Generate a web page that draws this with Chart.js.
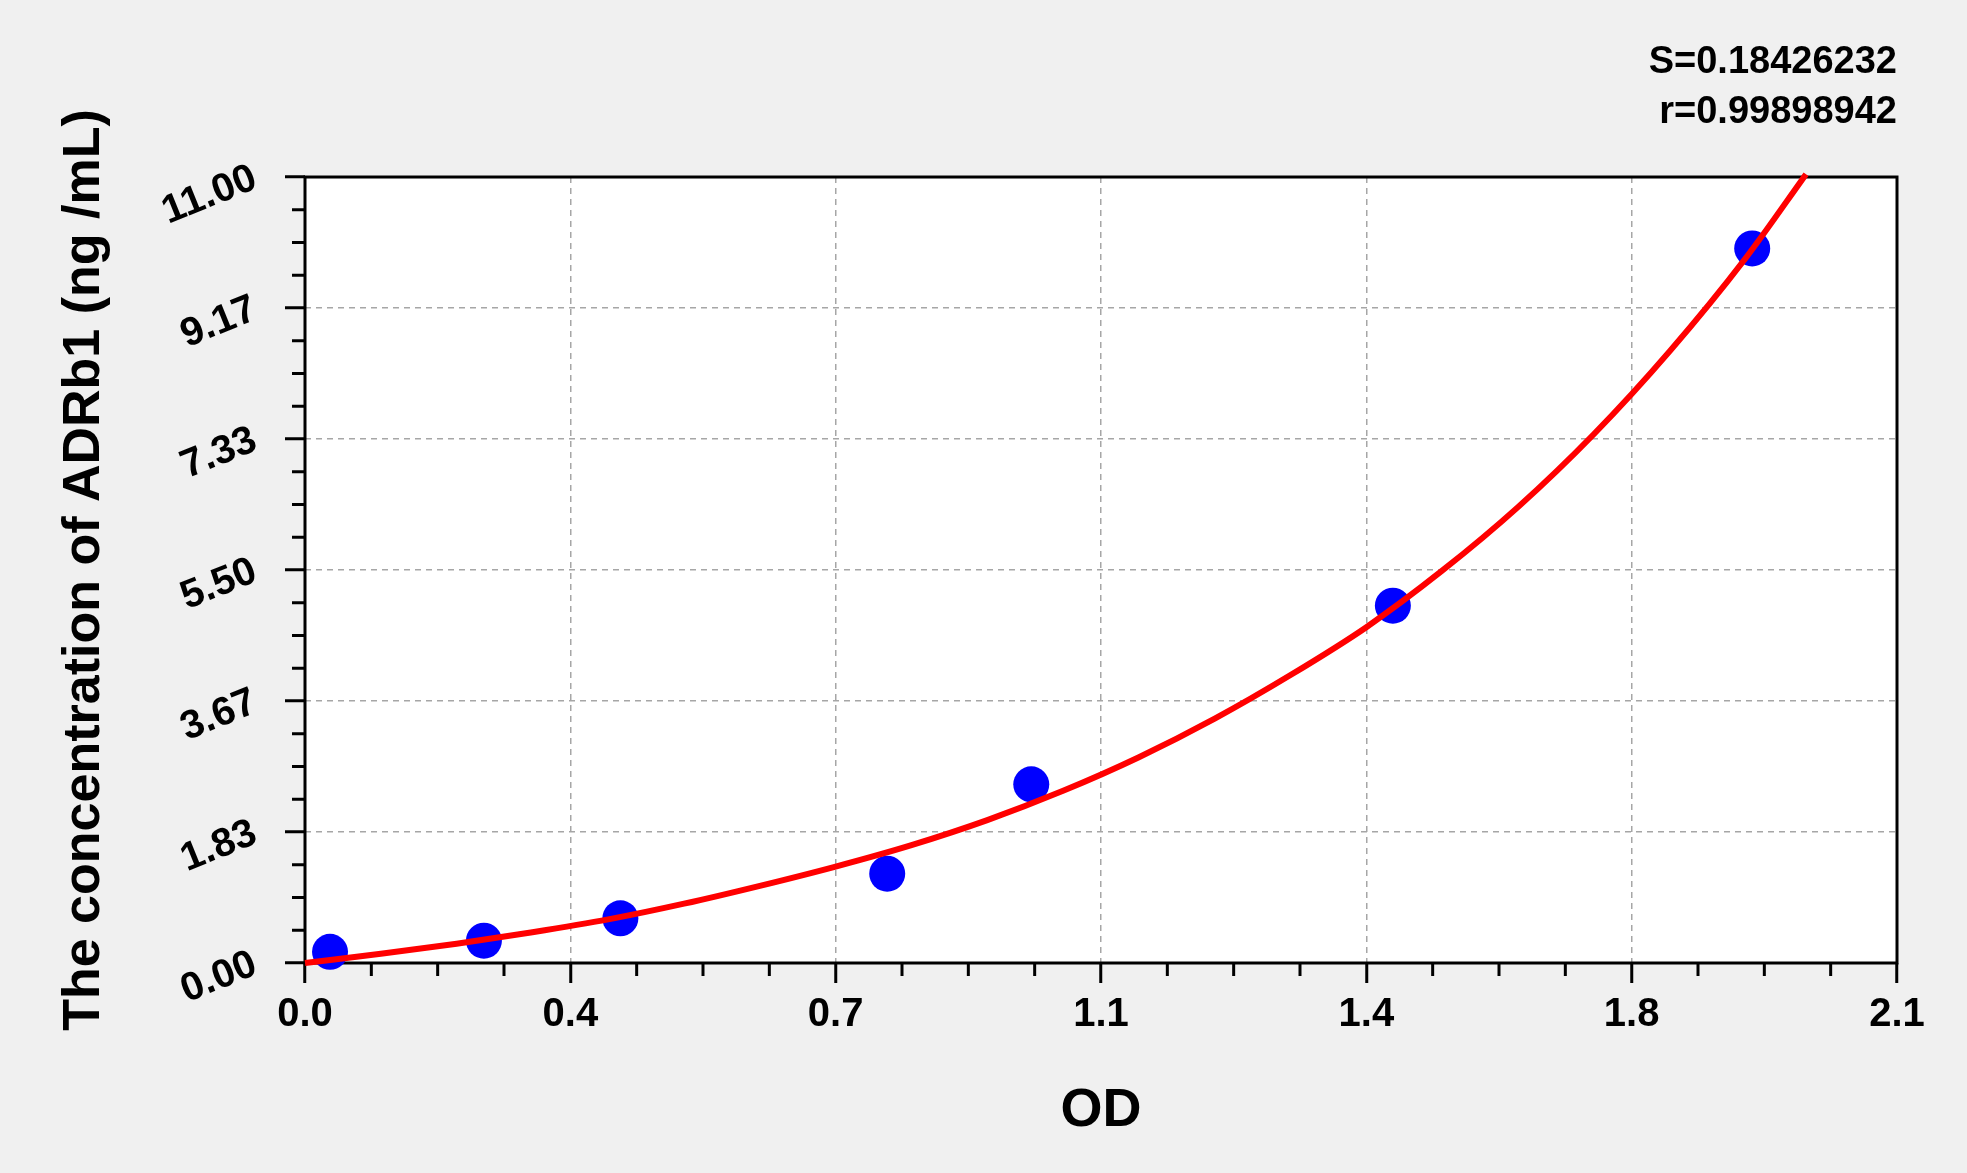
<!DOCTYPE html>
<html lang="en">
<head>
<meta charset="UTF-8">
<title>ADRb1 standard curve</title>
<script src="https://cdn.jsdelivr.net/npm/chart.js@4.4.0/dist/chart.umd.min.js"></script>
<style>
  html, body { margin: 0; padding: 0; background: #f0f0f0; overflow: hidden; }
  canvas { display: block; }
</style>
</head>
<body>
<canvas id="curve" width="1967" height="1173"></canvas>
<script>
// standards (OD, concentration in ng/mL)
var odValues   = [0.033, 0.236, 0.416, 0.768, 0.958, 1.435, 1.909];
var concValues = [0.156, 0.312, 0.625, 1.25, 2.5, 5, 10];

// fitted curve
var curveOD   = [0, 0.1, 0.2, 0.3, 0.4, 0.5, 0.6, 0.7, 0.8, 0.9, 1.0, 1.1, 1.2, 1.3, 1.4, 1.5, 1.6, 1.7, 1.8, 1.9, 1.98];
var curveConc = [0, 0.13, 0.27, 0.43, 0.61, 0.83, 1.08, 1.35, 1.65, 2.00, 2.41, 2.88, 3.42, 4.03, 4.70, 5.49, 6.38, 7.40, 8.56, 9.86, 11.04];

var xTickValues = [0, 0.35, 0.7, 1.05, 1.4, 1.75, 2.1];
var xTickLabels = ['0.0', '0.4', '0.7', '1.1', '1.4', '1.8', '2.1'];
var yTickValues = [0, 1.8333, 3.6667, 5.5, 7.3333, 9.1667, 11];
var yTickLabels = ['0.00', '1.83', '3.67', '5.50', '7.33', '9.17', '11.00'];

var statLines = ['S=0.18426232', 'r=0.99898942'];
var xTitle = 'OD';
var yTitle = 'The concentration of ADRb1 (ng /mL)';

var FONT = "'Liberation Sans', Arial, sans-serif";
var MINOR_PER_AXIS = 24;   // 3 minor ticks between labelled ticks

function toPoints(xs, ys) {
  var out = [];
  for (var i = 0; i < xs.length; i++) out.push({x: xs[i], y: ys[i]});
  return out;
}

var framePlugin = {
  id: 'frame',
  beforeDraw: function(chart) {
    var ctx = chart.ctx, a = chart.chartArea;
    ctx.save();
    ctx.fillStyle = '#f0f0f0';
    ctx.fillRect(0, 0, chart.width, chart.height);
    ctx.fillStyle = '#ffffff';
    ctx.fillRect(a.left, a.top, a.right - a.left, a.bottom - a.top);
    ctx.restore();
  },
  beforeDatasetsDraw: function(chart) {
    var ctx = chart.ctx, a = chart.chartArea;
    var xs = chart.scales.x, ys = chart.scales.y;
    ctx.save();
    ctx.strokeStyle = '#000';
    ctx.lineWidth = 3;
    ctx.setLineDash([]);
    ctx.beginPath();
    for (var k = 1; k < MINOR_PER_AXIS; k++) {
      if (k % 4 === 0) continue;
      var px = xs.getPixelForValue(xs.max * k / MINOR_PER_AXIS);
      ctx.moveTo(px, a.bottom);
      ctx.lineTo(px, a.bottom + 13);
      var py = ys.getPixelForValue(ys.max * k / MINOR_PER_AXIS);
      ctx.moveTo(a.left, py);
      ctx.lineTo(a.left - 13, py);
    }
    ctx.stroke();
    ctx.strokeRect(a.left, a.top, a.right - a.left, a.bottom - a.top);
    ctx.restore();
  }
};

new Chart(document.getElementById('curve'), {
  type: 'scatter',
  data: {
    datasets: [
      {
        data: toPoints(curveOD, curveConc),
        showLine: true,
        borderColor: '#ff0000',
        borderWidth: 6,
        pointRadius: 0,
        cubicInterpolationMode: 'monotone',
        clip: false
      },
      {
        data: toPoints(odValues, concValues),
        showLine: false,
        pointRadius: 18,
        pointBackgroundColor: '#0000ff',
        pointBorderWidth: 0,
        clip: false
      }
    ]
  },
  options: {
    responsive: false,
    animation: false,
    devicePixelRatio: 1,
    layout: { padding: { top: 0, right: 70, bottom: 0, left: 0 } },
    plugins: {
      legend: { display: false },
      tooltip: { enabled: false },
      title: {
        display: true,
        text: statLines,
        align: 'end',
        color: '#000',
        font: { family: FONT, size: 38, weight: 'bold', lineHeight: 1.316 },
        padding: { top: 38, bottom: 39 }
      }
    },
    scales: {
      x: {
        type: 'linear',
        min: 0,
        max: 2.1,
        afterBuildTicks: function(s) { s.ticks = xTickValues.map(function(v) { return {value: v}; }); },
        afterFit: function(s) { s.height = 210; },
        ticks: {
          autoSkip: false,
          maxRotation: 0,
          padding: 8,
          color: '#000',
          font: { family: FONT, size: 40, weight: 'bold' },
          callback: function(v, i) { return xTickLabels[i]; }
        },
        grid: { color: '#a6a6a6', lineWidth: 1.5, tickColor: '#000', tickWidth: 3, tickLength: 20, tickBorderDash: [] },
        border: { display: false, dash: [6, 5] },
        title: {
          display: true,
          text: xTitle,
          color: '#000',
          font: { family: FONT, size: 54, weight: 'bold' },
          padding: { top: 0, bottom: 29 }
        }
      },
      y: {
        type: 'linear',
        min: 0,
        max: 11,
        afterBuildTicks: function(s) { s.ticks = yTickValues.map(function(v) { return {value: v}; }); },
        afterFit: function(s) { s.width = 305; },
        ticks: {
          autoSkip: false,
          minRotation: 22,
          maxRotation: 22,
          padding: 30,
          color: '#000',
          font: { family: FONT, size: 40, weight: 'bold' },
          callback: function(v, i) { return yTickLabels[i]; }
        },
        grid: { color: '#a6a6a6', lineWidth: 1.5, tickColor: '#000', tickWidth: 3, tickLength: 20, tickBorderDash: [] },
        border: { display: false, dash: [6, 5] },
        title: {
          display: true,
          text: yTitle,
          color: '#000',
          font: { family: FONT, size: 52, weight: 'bold' },
          padding: { top: 53, bottom: 0 }
        }
      }
    }
  },
  plugins: [framePlugin]
});
</script>
</body>
</html>
